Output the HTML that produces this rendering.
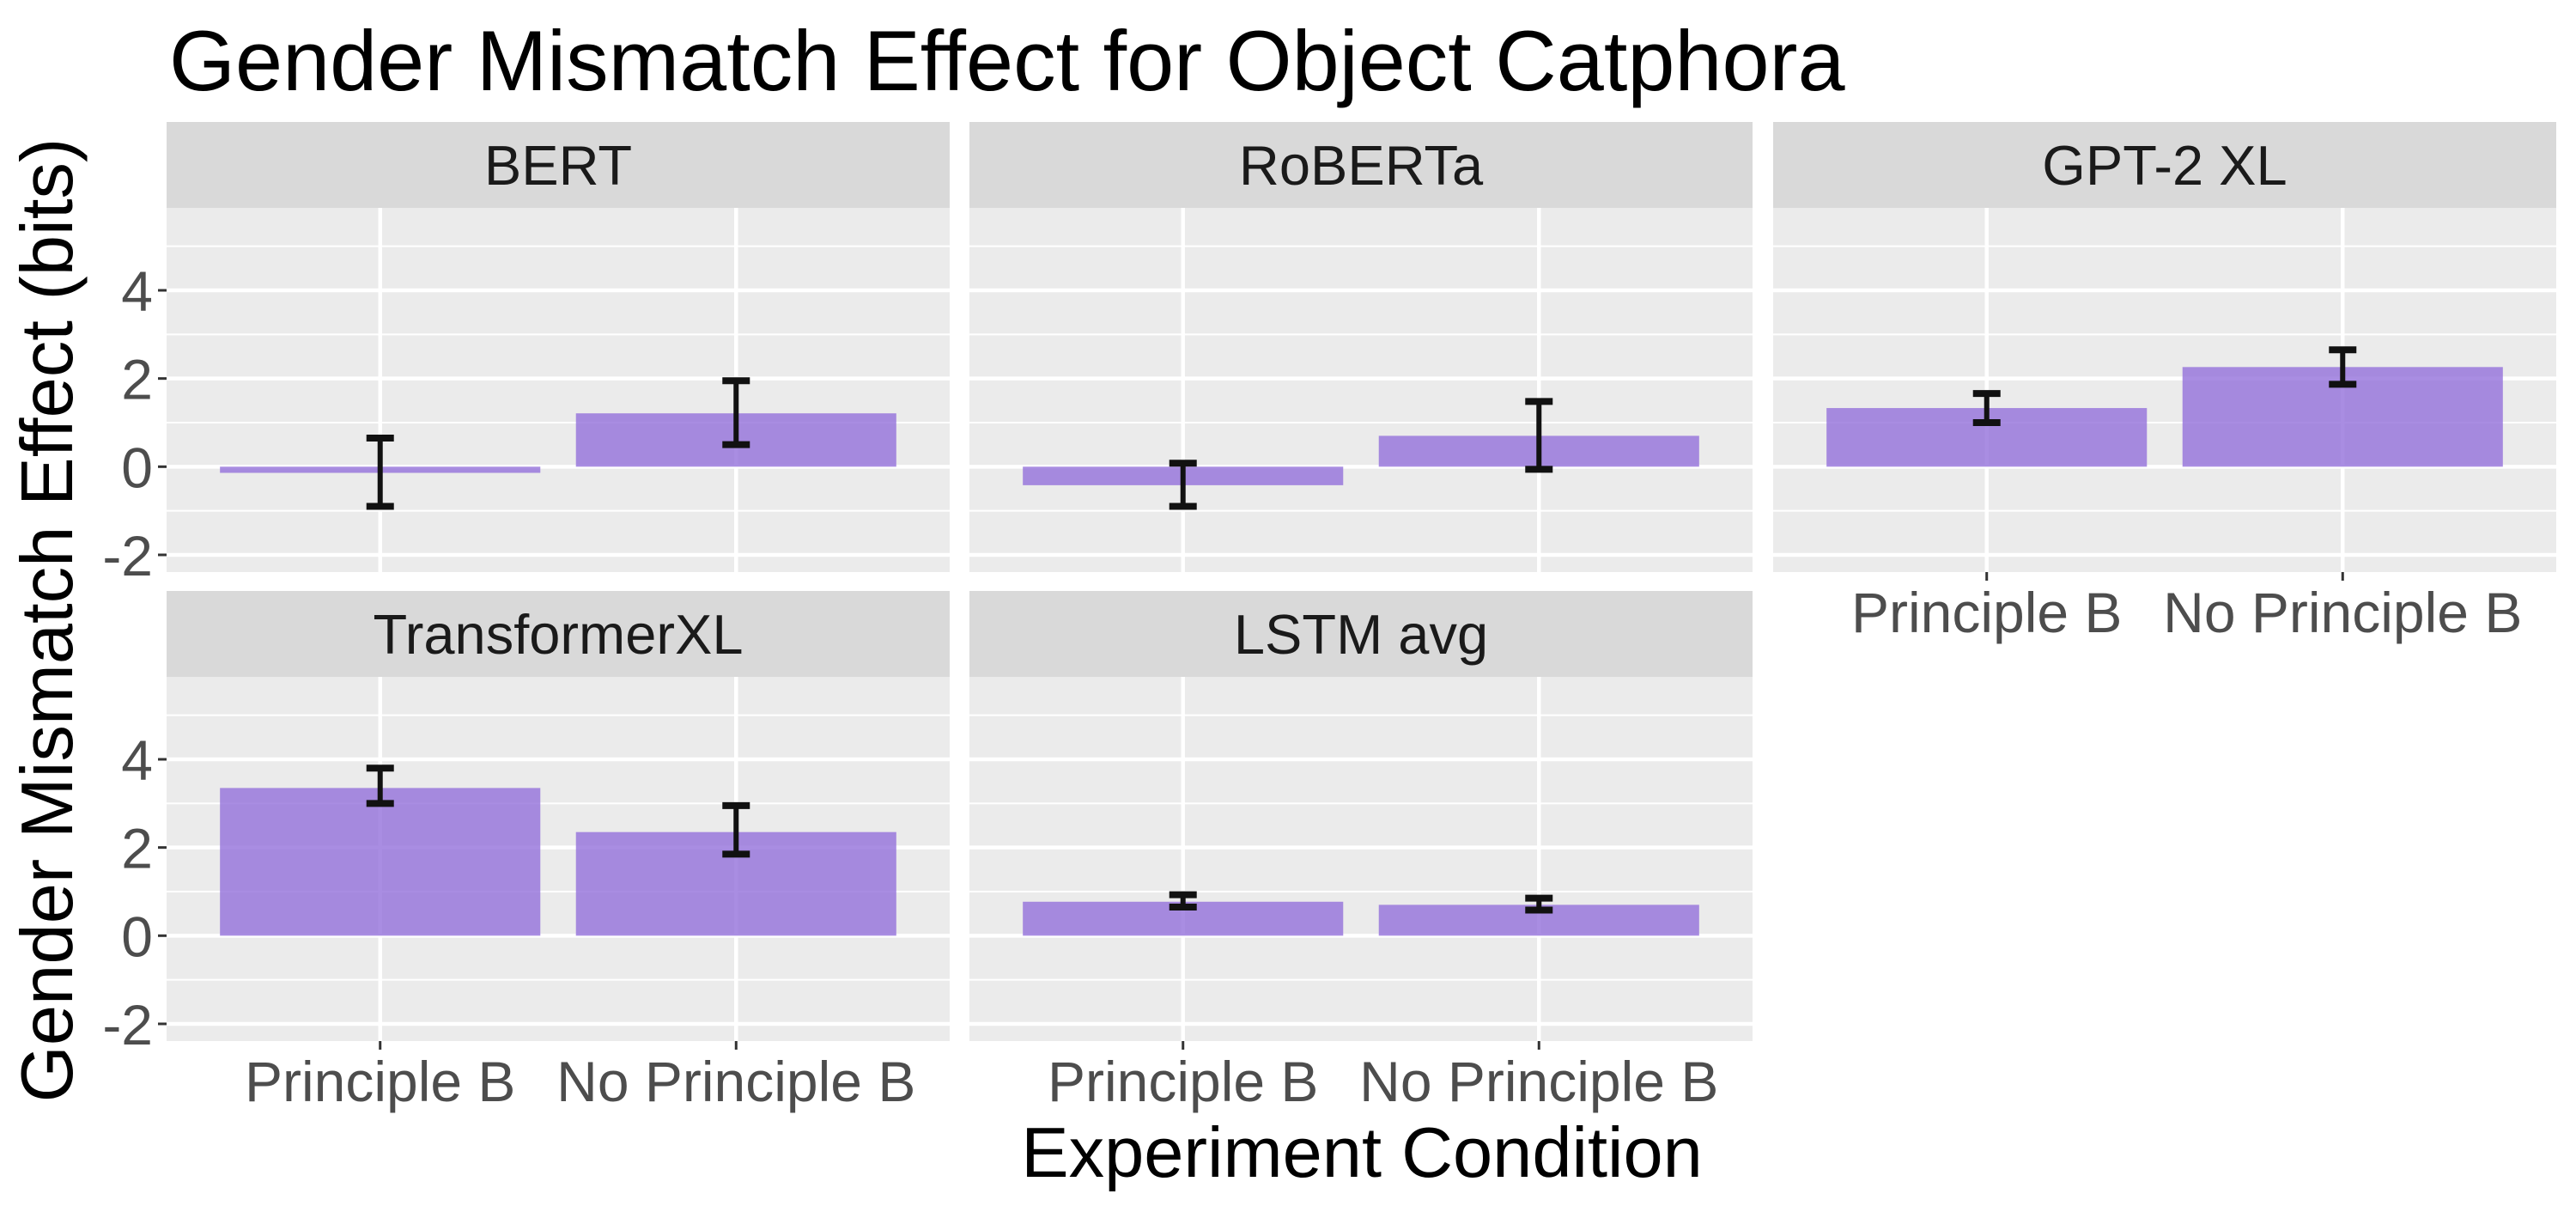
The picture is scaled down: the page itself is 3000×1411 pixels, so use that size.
<!DOCTYPE html>
<html><head><meta charset="utf-8"><style>
html,body{margin:0;padding:0;background:#fff;}
svg{display:block;font-family:"Liberation Sans",sans-serif;}
</style></head><body>
<svg id="chart" width="3000" height="1411" viewBox="0 0 3000 1411" xmlns="http://www.w3.org/2000/svg">
<text x="197" y="105" font-size="99" fill="#000">Gender Mismatch Effect for Object Catphora</text>
<text transform="translate(84,722) rotate(-90)" text-anchor="middle" font-size="85" fill="#000">Gender Mismatch Effect (bits)</text>
<text x="1586" y="1370" text-anchor="middle" font-size="83" fill="#000">Experiment Condition</text>
<g id="panels"></g>
</svg>
<script>
const models = ["BERT","RoBERTa","GPT-2 XL","TransformerXL","LSTM avg"];
const categories = ["Principle B","No Principle B"];
const means = [[-0.14,1.21],[-0.42,0.70],[1.33,2.26],[3.35,2.35],[0.77,0.70]];
const errLow = [[-0.90,0.50],[-0.90,-0.06],[1.00,1.87],[3.00,1.85],[0.65,0.58]];
const errHigh = [[0.65,1.95],[0.08,1.48],[1.66,2.65],[3.80,2.95],[0.93,0.85]];
const yTicks = [-2,0,2,4];
const yMinor = [-1,1,3,5];

const NS="http://www.w3.org/2000/svg";
const root=document.getElementById('panels');
function mk(tag,attrs,parent){const e=document.createElementNS(NS,tag);for(const k in attrs)e.setAttribute(k,attrs[k]);(parent||root).appendChild(e);return e;}
const colX=[194,1129,2065], pw=912, ph=424;
const rowStrip=[142,688], rowPanel=[242,788];
const yMin=-2.39, yMax=5.87;
models.forEach((m,i)=>{
  const c=i%3,r=Math.floor(i/3);
  const x0=colX[c], y0=rowPanel[r];
  const g=mk('g',{});
  
  
  const yS=v=>y0+(yMax-v)/(yMax-yMin)*ph;
  const xS=k=>x0+(k+1-0.4)/2.2*pw;
  const bw=0.9/2.2*pw;
  const st=mk('rect',{x:x0,y:rowStrip[r],width:pw,height:rowPanel[r]-rowStrip[r],fill:'#d9d9d9'},g);
  
  const stt=mk('text',{x:x0+pw/2,y:rowStrip[r]+73,'text-anchor':'middle','font-size':'65',fill:'#1a1a1a'},g);
  stt.textContent=m;
  
  const bg=mk('rect',{x:x0,y:y0,width:pw,height:ph,fill:'#ebebeb'},g);
  
  yMinor.forEach(v=>{const l=mk('line',{x1:x0,x2:x0+pw,y1:yS(v),y2:yS(v),stroke:'#fff','stroke-width':2},g);
    });
  yTicks.forEach(v=>{const l=mk('line',{x1:x0,x2:x0+pw,y1:yS(v),y2:yS(v),stroke:'#fff','stroke-width':4.5},g);
    });
  categories.forEach((cat,k)=>{const l=mk('line',{x1:xS(k),x2:xS(k),y1:y0,y2:y0+ph,stroke:'#fff','stroke-width':4.5},g);
    });
  categories.forEach((cat,k)=>{
    const v=means[i][k];
    const b=mk('rect',{x:xS(k)-bw/2,y:Math.min(yS(v),yS(0)),width:bw,height:Math.abs(yS(v)-yS(0)),fill:'#9370db','fill-opacity':0.8},g);
    
    const eg=mk('g',{stroke:'#111','stroke-width':6,fill:'none'},g);
    
    const lo=yS(errLow[i][k]),hi=yS(errHigh[i][k]);
    mk('line',{x1:xS(k),x2:xS(k),y1:lo,y2:hi},eg);
    mk('line',{x1:xS(k)-16,x2:xS(k)+16,y1:lo,y2:lo,'stroke-width':8},eg);
    mk('line',{x1:xS(k)-16,x2:xS(k)+16,y1:hi,y2:hi,'stroke-width':8},eg);
  });
  if(c===0){
    yTicks.forEach(v=>{
      mk('line',{x1:x0-10,x2:x0,y1:yS(v),y2:yS(v),stroke:'#333','stroke-width':3});
      const t=mk('text',{x:x0-16,y:yS(v)+24,'text-anchor':'end','font-size':'66',fill:'#4d4d4d'});
      t.textContent=(v<0?'-'+Math.abs(v):String(v));
      
    });
  }
  if(r===1||c===2){
    categories.forEach((cat,k)=>{
      mk('line',{x1:xS(k),x2:xS(k),y1:y0+ph,y2:y0+ph+10,stroke:'#333','stroke-width':3});
      const t=mk('text',{x:xS(k),y:y0+ph+70,'text-anchor':'middle','font-size':'66',fill:'#4d4d4d'});
      t.textContent=cat;
      
    });
  }
});
</script>
</body></html>
